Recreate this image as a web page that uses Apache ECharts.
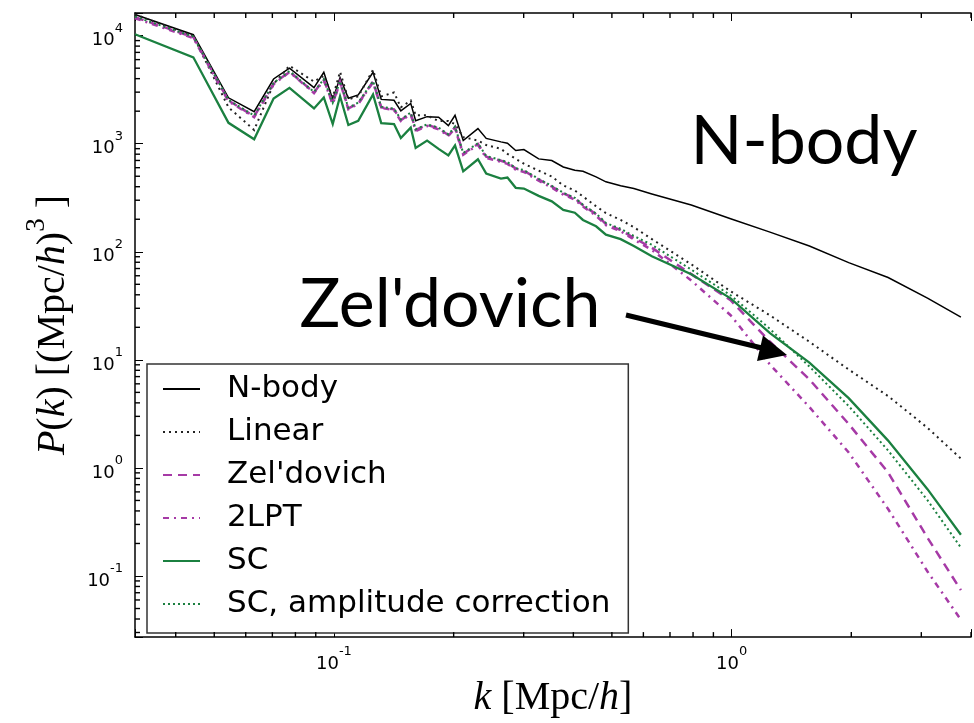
<!DOCTYPE html>
<html><head><meta charset="utf-8">
<script src="https://cdn.jsdelivr.net/npm/echarts@6/dist/echarts.min.js"></script>
<style>html,body{margin:0;padding:0;background:#fff}#c{width:974px;height:723px}</style>
</head><body><div id="c"></div>
<script>
// wavenumbers k [Mpc/h]
const k = [0.0316,0.0443,0.0543,0.063,0.0705,0.0773,0.0891,0.0943,0.0993,0.1036,0.1087,0.1151,0.1254,0.1315,0.1416,0.1473,0.156,0.1605,0.1715,0.1833,0.194,0.2016,0.2114,0.2302,0.2415,0.263,0.2731,0.2865,0.3004,0.3272,0.353,0.3773,0.4034,0.4229,0.4562,0.483,0.526,0.5678,0.6302,0.7917,0.9943,1.249,1.569,1.97,2.475,3.109,3.773];
// P(k) [(Mpc/h)^3]
const nbody = [15700,10200,2660,1980,3970,5010,3300,4580,2570,4080,2630,2830,4580,2570,2520,2010,2360,1630,1780,1760,1470,1830,1070,1380,1120,1040,1010,864,882,724,699,609,567,555,493,444,408,385,343,271,202,152,113,79.3,57.8,37.2,24.9];
const linear = [15700,9900,2170,1340,3570,5260,3750,4260,2680,4630,2570,2740,4830,2740,2980,2170,2510,1830,1830,1620,1620,1520,1150,1070,973,896,806,725,653,563,497,411,369,325,264,228,197,169,131,76.6,43.1,25.8,14.7,8.14,4.62,2.35,1.22];
const zeldovich = [14800,9680,2510,1790,3600,4640,2980,3910,2360,3750,2120,2360,3750,2170,2080,1650,1910,1340,1490,1390,1200,1420,806,995,757,695,667,588,563,466,402,347,312,269,223,180,159,134,109,62.1,35.6,14.7,6.59,2.55,0.908,0.226,0.074];
const lpt2 = [14500,9500,2470,1760,3550,4600,2940,3870,2330,3700,2090,2330,3700,2140,2050,1620,1880,1310,1460,1360,1180,1390,790,975,740,680,650,575,548,455,392,338,304,262,216,176,155,130,104,54.2,25.9,9.04,3.66,1.39,0.417,0.110,0.0393];
const sc = [10300,6300,1560,1100,2620,3290,2120,2680,1520,2750,1490,1630,2850,1550,1520,1130,1410,914,1070,896,778,964,555,718,529,476,486,391,385,329,293,244,230,197,172,144,131,113,91,62,37.1,17.7,9.42,4.42,1.79,0.636,0.241];
const scAmp = [15000,9800,2540,1820,3650,4700,3020,3960,2400,3800,2150,2400,3800,2200,2110,1680,1940,1360,1510,1410,1220,1440,820,1010,770,705,675,595,570,472,408,352,316,272,226,185,163,140,116,68.4,39.6,19.3,8.67,3.74,1.45,0.503,0.183];

const seriesNames = ['N-body','Linear',"Zel'dovich",'2LPT','SC','SC, amplitude correction'];
const xMinorTicks = [0.04,0.05,0.06,0.07,0.08,0.09,0.2,0.3,0.4,0.5,0.6,0.7,0.8,0.9,2,3,4];
const yMinorTicks = [0.03,0.04,0.05,0.06,0.07,0.08,0.09,0.2,0.3,0.4,0.5,0.6,0.7,0.8,0.9,2,3,4,5,6,7,8,9,20,30,40,50,60,70,80,90,200,300,400,500,600,700,800,900,2000,3000,4000,5000,6000,7000,8000,9000];

const X_MIN = 0.0316, X_MAX = 4.0, Y_MIN = 0.0272, Y_MAX = 16200;
const MAGENTA = '#a63aa6', GREEN = '#1b8040';

function powLabel(v){
  const e = Math.log10(v), r = Math.round(e);
  if (Math.abs(e - r) > 1e-6) return '';
  return '{b|10}{s|' + r + '}';
}
const tickRich = {
  b:{fontFamily:'DejaVu Sans', fontSize:18, color:'#000', lineHeight:28, verticalAlign:'bottom'},
  s:{fontFamily:'DejaVu Sans', fontSize:13, color:'#000', lineHeight:14, verticalAlign:'top'}
};
const nameRich = {
  i:{fontFamily:'Liberation Serif', fontStyle:'italic', fontSize:40, color:'#000', lineHeight:50, verticalAlign:'bottom'},
  r:{fontFamily:'Liberation Serif', fontSize:40, color:'#000', lineHeight:50, verticalAlign:'bottom'},
  sup:{fontFamily:'Liberation Serif', fontSize:27, color:'#000', lineHeight:30, verticalAlign:'top'}
};

function mk(name, vals, color, width, type){
  return {name, type:'line', xAxisIndex:0, yAxisIndex:0, data:k.map((x,i)=>[x, vals[i]]),
    symbol:'none', showSymbol:false, clip:true, animation:false,
    lineStyle:{color, width, type, cap:'butt', join:'miter'}, itemStyle:{color}};
}
// minor tick marks placed through the axes' own scales
function tickSeries(name, points, size, offset){
  return {name, type:'scatter', silent:true, animation:false, clip:false, z:5,
    xAxisIndex:0, yAxisIndex:0, symbol:'rect', symbolSize:size, symbolOffset:offset,
    itemStyle:{color:'#000', opacity:1}, data:points};
}

const chart = echarts.init(document.getElementById('c'), null, {renderer:'canvas'});
chart.setOption({
  animation:false,
  backgroundColor:'#fff',
  grid:{left:135, top:13, width:849, height:630, containLabel:false},
  xAxis:[
    {type:'log', min:X_MIN, max:X_MAX, position:'bottom',
     axisLine:{show:true, lineStyle:{color:'#000', width:1.5}},
     axisTick:{show:true, inside:true, length:8, lineStyle:{color:'#000', width:1}},
     splitLine:{show:false},
     axisLabel:{show:true, interval:0, margin:8, formatter:powLabel, rich:tickRich},
     name:'{i|k}{r| [Mpc/}{i|h}{r|]}', nameLocation:'middle', nameGap:26,
     nameTextStyle:{rich:nameRich}},
    {type:'log', min:X_MIN, max:X_MAX, position:'top',
     axisLine:{show:true, lineStyle:{color:'#000', width:1.5}},
     axisTick:{show:true, inside:true, length:8, lineStyle:{color:'#000', width:1}},
     splitLine:{show:false}, axisLabel:{show:false}}
  ],
  yAxis:[
    {type:'log', min:Y_MIN, max:Y_MAX, position:'left',
     axisLine:{show:true, lineStyle:{color:'#000', width:1.5}},
     axisTick:{show:true, inside:true, length:8, lineStyle:{color:'#000', width:1}},
     splitLine:{show:false},
     axisLabel:{show:true, interval:0, margin:12, formatter:powLabel, rich:tickRich},
     name:'{i|P}{r|(}{i|k}{r|) [(Mpc/}{i|h}{r|)}{sup|3}{r| ]}', nameLocation:'middle', nameRotate:90, nameGap:62,
     nameTextStyle:{rich:nameRich}}
  ],
  legend:{
    data:seriesNames, orient:'vertical', left:147, top:364,
    padding:[8,18,12,15], itemGap:9, itemWidth:37, itemHeight:20,
    backgroundColor:'#fff', borderColor:'#333', borderWidth:1.5, borderRadius:0,
    selectedMode:false,
    itemStyle:{opacity:0, borderWidth:0},
    textStyle:{fontFamily:'DejaVu Sans', fontSize:31, color:'#000', lineHeight:34, padding:[0,0,0,22]}
  },
  graphic:[
    {type:'text', x:804, y:142, z:100, style:{text:'N-body', fontFamily:'Lato', fontSize:68, fill:'#000', align:'center', verticalAlign:'middle'}},
    {type:'text', x:450, y:305, z:100, style:{text:"Zel'dovich", fontFamily:'Lato', fontSize:68, fill:'#000', align:'center', verticalAlign:'middle'}},
    {type:'line', z:100, shape:{x1:626, y1:315, x2:762, y2:348}, style:{stroke:'#000', lineWidth:5}},
    {type:'polygon', z:100, shape:{points:[[787,355],[763,335.5],[757,361]]}, style:{fill:'#000'}}
  ],
  series:[
    mk('N-body', nbody, '#000', 1.5, 'solid'),
    mk('Linear', linear, '#222', 2, [2,4]),
    mk("Zel'dovich", zeldovich, MAGENTA, 2.5, [9,6]),
    mk('2LPT', lpt2, MAGENTA, 2.5, [6,5,2,5]),
    mk('SC', sc, GREEN, 2.3, 'solid'),
    mk('SC, amplitude correction', scAmp, GREEN, 2, [2,3]),
    tickSeries('xMinorBottom', xMinorTicks.map(v => [v, Y_MIN]), [1.4, 5], [0, -2.5]),
    tickSeries('xMinorTop', xMinorTicks.map(v => [v, Y_MAX]), [1.4, 5], [0, 2.5]),
    tickSeries('yMinorLeft', yMinorTicks.map(v => [X_MIN, v]), [5, 1.4], [2.5, 0])
  ]
});
</script>
</body></html>
